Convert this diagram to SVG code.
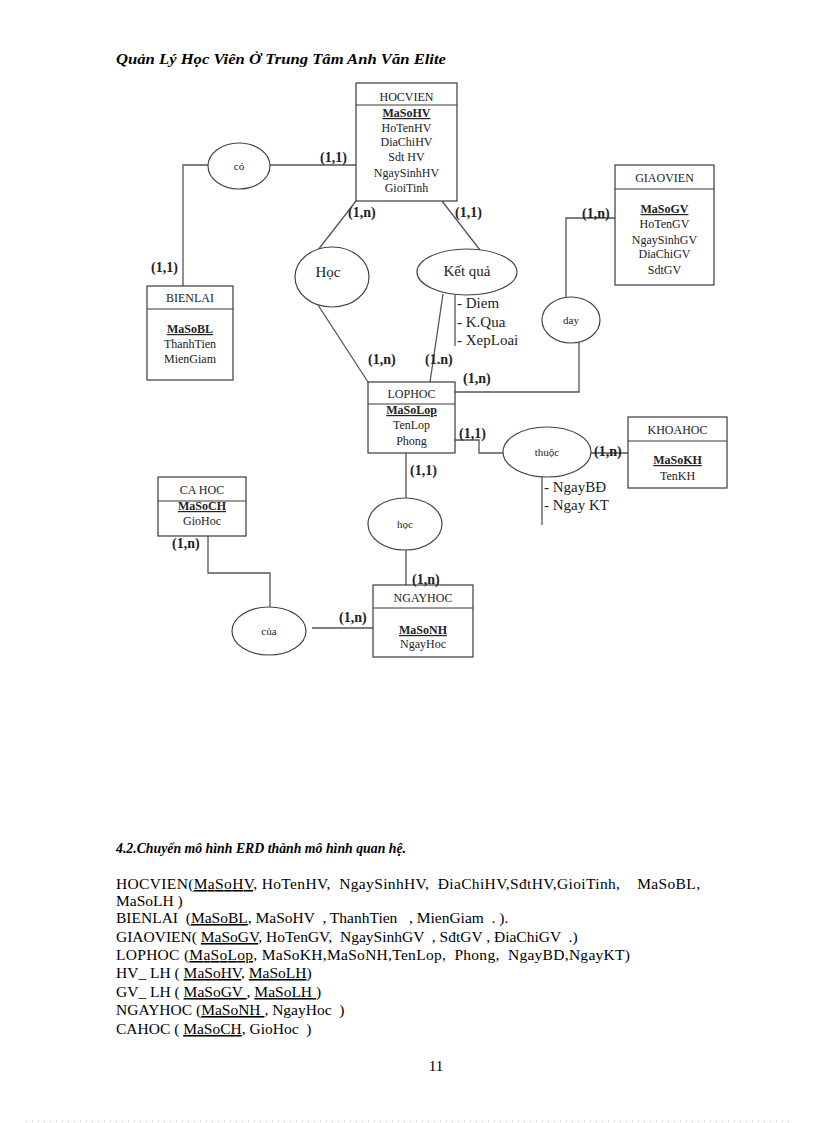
<svg xmlns="http://www.w3.org/2000/svg" width="816" height="1123" viewBox="0 0 816 1123">
<style>
.bg{fill:#fff}
.box{fill:#fff;stroke:#3a3a3a;stroke-width:1.2}
.div{stroke:#3a3a3a;stroke-width:1.2}
.el{fill:#fff;stroke:#444;stroke-width:1.2}
.ln{fill:none;stroke:#555;stroke-width:1.3}
.t{font-family:"Liberation Serif",serif;font-size:12px;fill:#222;text-anchor:middle}
.k{font-weight:bold;text-decoration:underline}
.r{font-family:"Liberation Serif",serif;font-size:11px;fill:#222;text-anchor:middle}
.rb{font-family:"Liberation Serif",serif;font-size:15px;fill:#222;text-anchor:middle}
.c{font-family:"Liberation Serif",serif;font-size:14px;font-weight:bold;fill:#222}
.a{font-family:"Liberation Serif",serif;font-size:15px;fill:#222}
.h{font-family:"Liberation Serif",serif;font-size:15px;font-weight:bold;font-style:italic;fill:#000}
.p{font-family:"Liberation Serif",serif;font-size:15.5px;fill:#000;white-space:pre}
.u{text-decoration:underline}
</style>
<rect class="bg" x="0" y="0" width="816" height="1123"/>
<text class="h" x="116" y="64" textLength="330" lengthAdjust="spacingAndGlyphs">Quản Lý Học Viên Ở Trung Tâm Anh Văn Elite</text>

<g id="connectors">
<line class="ln" x1="270" y1="165" x2="356" y2="165"/>
<polyline class="ln" points="208,165 183,165 183,286"/>
<line class="ln" x1="356" y1="201" x2="318" y2="250"/>
<line class="ln" x1="318" y1="305" x2="368" y2="382"/>
<line class="ln" x1="442" y1="201" x2="480" y2="250"/>
<line class="ln" x1="443" y1="294" x2="430" y2="382"/>
<line class="ln" x1="455" y1="295" x2="455" y2="346"/>
<polyline class="ln" points="566,297 566,218 615,218"/>
<polyline class="ln" points="579,342 579,392 455,392"/>
<polyline class="ln" points="455,440 479,440 479,453 503,453"/>
<line class="ln" x1="591" y1="453" x2="628" y2="453"/>
<line class="ln" x1="542" y1="477" x2="542" y2="525"/>
<line class="ln" x1="406" y1="453" x2="406" y2="498"/>
<line class="ln" x1="406" y1="550" x2="406" y2="585"/>
<polyline class="ln" points="208,536 208,573 270,573 270,607"/>
<line class="ln" x1="312" y1="628" x2="373" y2="628"/>
</g>

<g id="HOCVIEN">
<rect class="box" x="356" y="83" width="101" height="118"/>
<line class="div" x1="356" y1="105" x2="457" y2="105"/>
<text class="t" x="406.5" y="101">HOCVIEN</text>
<text class="t k" x="406.5" y="117">MaSoHV</text>
<text class="t" x="406.5" y="132">HoTenHV</text>
<text class="t" x="406.5" y="146">DiaChiHV</text>
<text class="t" x="406.5" y="161">Sdt HV</text>
<text class="t" x="406.5" y="177">NgaySinhHV</text>
<text class="t" x="406.5" y="192">GioiTinh</text>
</g>

<g id="BIENLAI">
<rect class="box" x="147" y="286" width="86" height="94"/>
<line class="div" x1="147" y1="309" x2="233" y2="309"/>
<text class="t" x="190" y="302">BIENLAI</text>
<text class="t k" x="190" y="333">MaSoBL</text>
<text class="t" x="190" y="348">ThanhTien</text>
<text class="t" x="190" y="363">MienGiam</text>
</g>

<g id="GIAOVIEN">
<rect class="box" x="615" y="165" width="99" height="120"/>
<line class="div" x1="615" y1="189" x2="714" y2="189"/>
<text class="t" x="664.5" y="182">GIAOVIEN</text>
<text class="t k" x="664.5" y="213">MaSoGV</text>
<text class="t" x="664.5" y="228">HoTenGV</text>
<text class="t" x="664.5" y="244">NgaySinhGV</text>
<text class="t" x="664.5" y="258">DiaChiGV</text>
<text class="t" x="664.5" y="274">SdtGV</text>
</g>

<g id="LOPHOC">
<rect class="box" x="368" y="382" width="87" height="71"/>
<line class="div" x1="368" y1="404" x2="455" y2="404"/>
<text class="t" x="411.5" y="398">LOPHOC</text>
<text class="t k" x="411.5" y="414">MaSoLop</text>
<text class="t" x="411.5" y="429">TenLop</text>
<text class="t" x="411.5" y="445">Phong</text>
</g>

<g id="KHOAHOC">
<rect class="box" x="628" y="417" width="99" height="71"/>
<line class="div" x1="628" y1="441" x2="727" y2="441"/>
<text class="t" x="677.5" y="434">KHOAHOC</text>
<text class="t k" x="677.5" y="464">MaSoKH</text>
<text class="t" x="677.5" y="480">TenKH</text>
</g>

<g id="CAHOC">
<rect class="box" x="158" y="477" width="88" height="59"/>
<line class="div" x1="158" y1="501" x2="246" y2="501"/>
<text class="t" x="202" y="494">CA HOC</text>
<text class="t k" x="202" y="510">MaSoCH</text>
<text class="t" x="202" y="525">GioHoc</text>
</g>

<g id="NGAYHOC">
<rect class="box" x="373" y="585" width="100" height="72"/>
<line class="div" x1="373" y1="608" x2="473" y2="608"/>
<text class="t" x="423" y="602">NGAYHOC</text>
<text class="t k" x="423" y="634">MaSoNH</text>
<text class="t" x="423" y="648">NgayHoc</text>
</g>

<g id="co">
<ellipse class="el" cx="239" cy="166" rx="31" ry="23"/>
<text class="r" x="239" y="170">có</text>
</g>
<g id="Hoc">
<ellipse class="el" cx="332" cy="277" rx="37" ry="30"/>
<text class="rb" x="328" y="277">Học</text>
</g>
<g id="KetQua">
<ellipse class="el" cx="467" cy="272" rx="50" ry="23"/>
<text class="rb" x="467" y="276">Kết quả</text>
</g>
<g id="day">
<ellipse class="el" cx="571" cy="320" rx="29" ry="23"/>
<text class="r" x="571" y="324">day</text>
</g>
<g id="thuoc">
<ellipse class="el" cx="547" cy="452" rx="44" ry="25"/>
<text class="r" x="547" y="456">thuộc</text>
</g>
<g id="hoc2">
<ellipse class="el" cx="405" cy="524" rx="37" ry="26"/>
<text class="r" x="405" y="528">học</text>
</g>
<g id="cua">
<ellipse class="el" cx="269" cy="631" rx="37" ry="24"/>
<text class="r" x="269" y="635">của</text>
</g>

<g id="cardinalities">
<text class="c" x="320" y="162">(1,1)</text>
<text class="c" x="151" y="272">(1,1)</text>
<text class="c" x="348" y="217">(1,n)</text>
<text class="c" x="455" y="217">(1,1)</text>
<text class="c" x="368" y="364">(1,n)</text>
<text class="c" x="425" y="364">(1.n)</text>
<text class="c" x="463" y="383">(1,n)</text>
<text class="c" x="582" y="218">(1,n)</text>
<text class="c" x="459" y="438">(1,1)</text>
<text class="c" x="594" y="456">(1,n)</text>
<text class="c" x="410" y="475">(1,1)</text>
<text class="c" x="412" y="584">(1,n)</text>
<text class="c" x="172" y="548">(1,n)</text>
<text class="c" x="339" y="622">(1,n)</text>
</g>

<g id="attributes">
<text class="a" x="457" y="308">- Diem</text>
<text class="a" x="457" y="327">- K.Qua</text>
<text class="a" x="457" y="345">- XepLoai</text>
<text class="a" x="544" y="492">- NgayBĐ</text>
<text class="a" x="544" y="510">- Ngay KT</text>
</g>

<text class="h" x="116" y="853" textLength="290" lengthAdjust="spacingAndGlyphs">4.2.Chuyển mô hình ERD thành mô hình quan hệ.</text>

<text class="p" x="116" y="889" textLength="584" lengthAdjust="spacing">HOCVIEN(<tspan class="u">MaSoHV</tspan>, HoTenHV,  NgaySinhHV,  ĐiaChiHV,SđtHV,GioiTinh,    MaSoBL,</text>
<text class="p" x="116" y="906">MaSoLH )</text>
<text class="p" x="116" y="923">BIENLAI  (<tspan class="u">MaSoBL</tspan>, MaSoHV  , ThanhTien   , MienGiam  . ).</text>
<text class="p" x="116" y="942">GIAOVIEN( <tspan class="u">MaSoGV</tspan>, HoTenGV,  NgaySinhGV  , SđtGV , ĐiaChiGV  .)</text>
<text class="p" x="116" y="960" textLength="514" lengthAdjust="spacing">LOPHOC (<tspan class="u">MaSoLop</tspan>, MaSoKH,MaSoNH,TenLop,  Phong,  NgayBD,NgayKT)</text>
<text class="p" x="116" y="978">HV_ LH ( <tspan class="u">MaSoHV</tspan>, <tspan class="u">MaSoLH</tspan>)</text>
<text class="p" x="116" y="997">GV_ LH ( <tspan class="u">MaSoGV </tspan>, <tspan class="u">MaSoLH </tspan>)</text>
<text class="p" x="116" y="1015">NGAYHOC (<tspan class="u">MaSoNH </tspan>, NgayHoc  )</text>
<text class="p" x="116" y="1034">CAHOC ( <tspan class="u">MaSoCH</tspan>, GioHoc  )</text>

<text class="p" x="436" y="1071" text-anchor="middle" style="font-size:15px">11</text>
<line x1="26" y1="1121" x2="790" y2="1121" stroke="#bbb" stroke-width="1" stroke-dasharray="1,5"/>
</svg>
